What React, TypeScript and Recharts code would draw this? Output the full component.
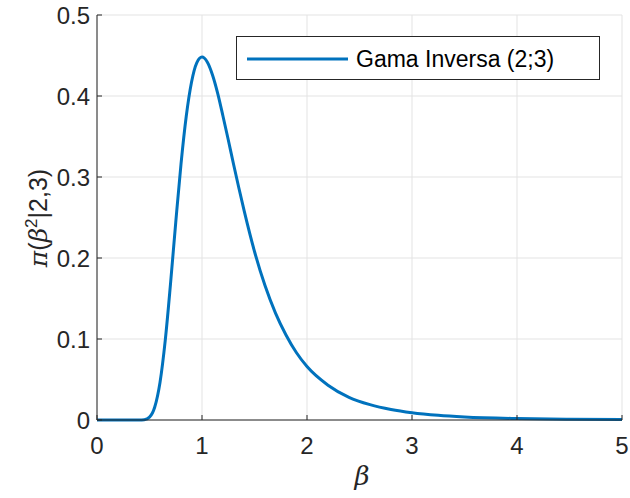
import { LineChart, Line, XAxis, YAxis, CartesianGrid } from "recharts";

// beta values and density
const betaValues = [
  0, 0.1, 0.2, 0.3, 0.4, 0.45, 0.5, 0.55, 0.6, 0.65, 0.7, 0.75, 0.8, 0.85, 0.9, 0.95, 1,
  1.05, 1.1, 1.15, 1.2, 1.25, 1.3, 1.35, 1.4, 1.5, 1.6, 1.7, 1.8, 1.9, 2, 2.2, 2.4, 2.6,
  2.8, 3, 3.25, 3.5, 4, 4.5, 5,
];
const densityValues = [
  0, 0, 0, 0, 0.00002, 0.0004, 0.0035, 0.016, 0.0463, 0.0983, 0.168, 0.244, 0.316, 0.375,
  0.417, 0.441, 0.448, 0.442, 0.426, 0.403, 0.375, 0.346, 0.316, 0.287, 0.259, 0.208, 0.166,
  0.132, 0.105, 0.083, 0.066, 0.043, 0.028, 0.019, 0.013, 0.009, 0.0058, 0.0038, 0.0018,
  0.0009, 0.0005,
];
const xTicks = [0, 1, 2, 3, 4, 5];
const yTicks = [0, 0.1, 0.2, 0.3, 0.4, 0.5];
const seriesName = "Gama Inversa (2;3)";

const data = betaValues.map((b, i) => ({ beta: b, pdf: densityValues[i] }));

const font = "'Liberation Sans', Arial, sans-serif";
const axisColor = "#262626";
const lineColor = "#0072BD";

const BottomTick = (props: any) => {
  const { x, y, payload } = props;
  return (
    <g>
      <line x1={x} y1={y} x2={x} y2={y - 5} stroke={axisColor} strokeWidth={1} />
      <text x={x} y={y + 34} textAnchor="middle" fontSize={24} fontFamily={font} fill={axisColor}>
        {payload.value}
      </text>
    </g>
  );
};

const TopTick = (props: any) => {
  const { x, y } = props;
  return <line x1={x} y1={y} x2={x} y2={y + 5} stroke={axisColor} strokeWidth={1} />;
};

const LeftTick = (props: any) => {
  const { x, y, payload } = props;
  return (
    <g>
      <line x1={x} y1={y} x2={x + 5} y2={y} stroke={axisColor} strokeWidth={1} />
      <text x={x - 7} y={y + 9} textAnchor="end" fontSize={24} fontFamily={font} fill={axisColor}>
        {payload.value}
      </text>
    </g>
  );
};

const RightTick = (props: any) => {
  const { x, y } = props;
  return <line x1={x} y1={y} x2={x - 5} y2={y} stroke={axisColor} strokeWidth={1} />;
};

export default function App() {
  return (
    <div style={{ position: "absolute", left: 0, top: 0, width: 630, height: 498, background: "#fff" }}>
      <LineChart width={630} height={498} data={data} margin={{ top: 15, right: 8, bottom: 0, left: 0 }}>
        <CartesianGrid xAxisId="b" yAxisId="l" stroke="#e3e3e3" strokeWidth={1} />
        <XAxis
          xAxisId="b"
          dataKey="beta"
          type="number"
          domain={[0, 5]}
          ticks={xTicks}
          height={78}
          tickSize={0}
          tickMargin={0}
          tickLine={false}
          tick={<BottomTick />}
          axisLine={{ stroke: axisColor }}
        />
        <XAxis
          xAxisId="t"
          orientation="top"
          dataKey="beta"
          type="number"
          domain={[0, 5]}
          ticks={xTicks}
          height={0}
          tickSize={0}
          tickMargin={0}
          tickLine={false}
          tick={<TopTick />}
          axisLine={{ stroke: axisColor }}
        />
        <YAxis
          yAxisId="l"
          type="number"
          domain={[0, 0.5]}
          ticks={yTicks}
          width={97}
          tickSize={0}
          tickMargin={0}
          tickLine={false}
          tick={<LeftTick />}
          axisLine={{ stroke: axisColor }}
        />
        <YAxis
          yAxisId="r"
          orientation="right"
          type="number"
          domain={[0, 0.5]}
          ticks={yTicks}
          width={0}
          tickSize={0}
          tickMargin={0}
          tickLine={false}
          tick={<RightTick />}
          axisLine={{ stroke: axisColor }}
        />
        <Line
          xAxisId="b"
          yAxisId="l"
          type="monotone"
          dataKey="pdf"
          name={seriesName}
          stroke={lineColor}
          strokeWidth={3}
          dot={false}
          isAnimationActive={false}
        />
      </LineChart>
      <svg style={{ position: "absolute", left: 0, top: 0, pointerEvents: "none" }} width={630} height={498}>
        <g transform="translate(236,36)">
          <rect x={0.5} y={0.5} width={363} height={43} fill="#fff" stroke={axisColor} strokeWidth={1} />
          <line x1={11} y1={23} x2={112} y2={23} stroke={lineColor} strokeWidth={3} />
          <text x={120} y={31} fontSize={23} fontFamily={font} fill="#000">
            {seriesName}
          </text>
        </g>
        <text
          transform="translate(47,218) rotate(-90)"
          textAnchor="middle"
          fontSize={25}
          fontFamily={font}
          fill={axisColor}
        >
          <tspan fontFamily="'DejaVu Serif', serif" fontStyle="italic">π</tspan>
          <tspan>(</tspan>
          <tspan fontFamily="'DejaVu Serif', serif" fontStyle="italic">β</tspan>
          <tspan dy={-10} fontSize={17}>2</tspan>
          <tspan dy={10}>|2,3)</tspan>
        </text>
        <text
          x={362}
          y={485}
          textAnchor="middle"
          fontSize={26}
          fontFamily="'DejaVu Serif', serif"
          fontStyle="italic"
          fill={axisColor}
        >
          β
        </text>
      </svg>
    </div>
  );
}
